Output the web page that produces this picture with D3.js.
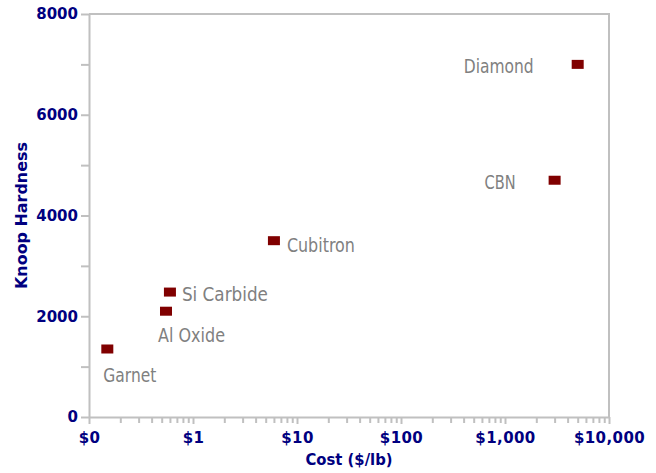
<!DOCTYPE html>
<html>
<head>
<meta charset="utf-8">
<script src="https://cdn.jsdelivr.net/npm/d3@7/dist/d3.min.js"></script>
<style>
  html, body { margin: 0; padding: 0; background: #ffffff; }
  svg { display: block; }
</style>
</head>
<body>
<script>
// ---- data ----
const materials = ["Garnet", "Al Oxide", "Si Carbide", "Cubitron", "CBN", "Diamond"];
const costs     = [0.15, 0.55, 0.6, 6, 3000, 5000];
const hardness  = [1350, 2100, 2480, 3500, 4700, 7000];
const xTickValues = [0.1, 1, 10, 100, 1000, 10000];
const xTickLabels = ["$0", "$1", "$10", "$100", "$1,000", "$10,000"];
const yTickValues = [0, 2000, 4000, 6000, 8000];
const yMinorValues = [1000, 3000, 5000, 7000];

// ---- layout / style ----
const W = 656, H = 473;
const plot = { left: 89, right: 609, top: 14, bottom: 417 };
const navy = "#000080", axisGray = "#c0c0c0", labelGray = "#808080", markColor = "#800000";
const labelStyle = {
  "Garnet":     { dx: -4,  dy: 33, anchor: "start", len: 53 },
  "Al Oxide":   { dx: -8,  dy: 31, anchor: "start", len: 67 },
  "Si Carbide": { dx: 12,  dy: 9,  anchor: "start", len: 86 },
  "Cubitron":   { dx: 13,  dy: 11, anchor: "start", len: 68 },
  "CBN":        { dx: -39, dy: 9,  anchor: "end",   len: 31 },
  "Diamond":    { dx: -44, dy: 9,  anchor: "end",   len: 70 }
};

const svg = d3.select("body").append("svg").attr("width", W).attr("height", H);

const x = d3.scaleLog().domain([0.1, 10000]).range([plot.left, plot.right]);
const y = d3.scaleLinear().domain([0, 8000]).range([plot.bottom, plot.top]);

// frame (top and right)
svg.append("path")
  .attr("d", `M${plot.left},${plot.top}H${plot.right}V${plot.bottom}`)
  .attr("fill", "none").attr("stroke", axisGray).attr("stroke-width", 2);

// x minor ticks
const xMinor = x.ticks().filter(v => !xTickValues.some(m => Math.abs(m - v) < 1e-9));
svg.append("g")
  .attr("transform", `translate(0,${plot.bottom})`)
  .call(d3.axisBottom(x).tickValues(xMinor).tickSize(6).tickFormat(""))
  .call(g => g.select(".domain").remove())
  .call(g => g.selectAll("line").attr("stroke", axisGray).attr("stroke-width", 2));

// x major axis
const xAxis = svg.append("g")
  .attr("transform", `translate(0,${plot.bottom})`)
  .call(d3.axisBottom(x).tickValues(xTickValues).tickSize(7).tickSizeOuter(0)
        .tickFormat((d, i) => xTickLabels[i]));
xAxis.select(".domain").attr("stroke", axisGray).attr("stroke-width", 2);
xAxis.selectAll("line").attr("stroke", axisGray).attr("stroke-width", 2);
xAxis.selectAll("text")
  .attr("y", 26).attr("dy", 0)
  .attr("fill", navy)
  .style("font-family", "'DejaVu Sans', sans-serif")
  .style("font-weight", "bold")
  .style("font-size", "15px")
  .style("letter-spacing", "0.4px");

// y minor ticks
svg.append("g")
  .attr("transform", `translate(${plot.left},0)`)
  .call(d3.axisLeft(y).tickValues(yMinorValues).tickSize(8).tickFormat(""))
  .call(g => g.select(".domain").remove())
  .call(g => g.selectAll("line").attr("stroke", axisGray).attr("stroke-width", 2));

// y major axis
const yAxis = svg.append("g")
  .attr("transform", `translate(${plot.left},0)`)
  .call(d3.axisLeft(y).tickValues(yTickValues).tickSize(8).tickSizeOuter(0)
        .tickFormat(d3.format("d")));
yAxis.select(".domain").attr("stroke", axisGray).attr("stroke-width", 2);
yAxis.selectAll("line").attr("stroke", axisGray).attr("stroke-width", 2);
yAxis.selectAll("text")
  .attr("x", -11)
  .attr("fill", navy)
  .style("font-family", "'DejaVu Sans', sans-serif")
  .style("font-weight", "bold")
  .style("font-size", "15px");

// axis titles
svg.append("text")
  .attr("x", (plot.left + plot.right) / 2).attr("y", 465)
  .attr("text-anchor", "middle")
  .attr("fill", navy)
  .attr("textLength", 87).attr("lengthAdjust", "spacingAndGlyphs")
  .style("font-family", "'DejaVu Sans', sans-serif")
  .style("font-weight", "bold")
  .style("font-size", "15px")
  .text("Cost ($/lb)");

svg.append("text")
  .attr("transform", `translate(27,${(plot.top + plot.bottom) / 2}) rotate(-90)`)
  .attr("text-anchor", "middle")
  .attr("fill", navy)
  .attr("textLength", 147).attr("lengthAdjust", "spacingAndGlyphs")
  .style("font-family", "'DejaVu Sans', sans-serif")
  .style("font-weight", "bold")
  .style("font-size", "15px")
  .text("Knoop Hardness");

// points
const pts = materials.map((m, i) => ({ name: m, cost: costs[i], hard: hardness[i] }));
const mw = 12, mh = 9;
svg.append("g").selectAll("rect").data(pts).join("rect")
  .attr("x", d => x(d.cost) - mw / 2)
  .attr("y", d => y(d.hard) - mh / 2)
  .attr("width", mw).attr("height", mh)
  .attr("fill", markColor);

// labels
svg.append("g").selectAll("text").data(pts).join("text")
  .attr("x", d => x(d.cost) + labelStyle[d.name].dx)
  .attr("y", d => y(d.hard) + labelStyle[d.name].dy)
  .attr("text-anchor", d => labelStyle[d.name].anchor)
  .attr("textLength", d => labelStyle[d.name].len)
  .attr("lengthAdjust", "spacingAndGlyphs")
  .attr("fill", labelGray)
  .style("font-family", "'DejaVu Sans', sans-serif")
  .style("font-size", "19px")
  .text(d => d.name);
</script>
</body>
</html>
